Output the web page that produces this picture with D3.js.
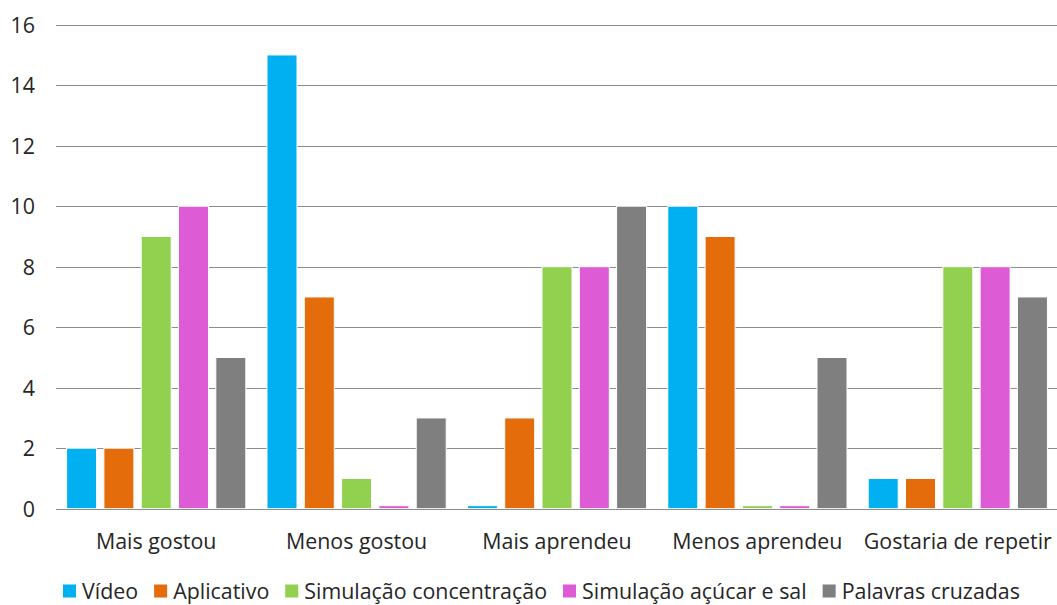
<!DOCTYPE html>
<html>
<head>
<meta charset="utf-8">
<script src="https://cdn.jsdelivr.net/npm/d3@7"></script>
<style>
  html, body { margin: 0; padding: 0; background: #fff; }
  svg text { font-family: "Open Sans", Lato, sans-serif; fill: #262626; }
</style>
</head>
<body>
<svg id="chart" width="1057" height="605"></svg>
<script>
// Categories and series
const categories = ["Mais gostou", "Menos gostou", "Mais aprendeu", "Menos aprendeu", "Gostaria de repetir"];
const seriesNames = ["Vídeo", "Aplicativo", "Simulação concentração", "Simulação açúcar e sal", "Palavras cruzadas"];
const seriesColors = ["#00B0F0", "#E46C0A", "#92D050", "#DD5CD5", "#7F7F7F"];

// Values per series, one entry per category
const video        = [2, 15, 0.1, 10, 1];
const aplicativo   = [2, 7, 3, 9, 1];
const simConc      = [9, 1, 8, 0.1, 8];
const simAcucar    = [10, 0.1, 8, 0.1, 8];
const palavras     = [5, 3, 10, 5, 7];
const seriesValues = [video, aplicativo, simConc, simAcucar, palavras];

const yTicks = [0, 2, 4, 6, 8, 10, 12, 14, 16];

const FONT = "'Open Sans', Lato, sans-serif";
const FS = "21.4px";
const svg = d3.select("#chart");
const plot = { left: 56, right: 1058, top: 24.7, bottom: 508.7 };

const x0 = d3.scaleBand().domain(categories).range([plot.left, plot.right]).padding(0);
const x1 = d3.scaleBand().domain(seriesNames).range([0, x0.bandwidth()])
  .paddingInner(0.196).paddingOuter(0.284);
const y = d3.scaleLinear().domain([0, 16]).range([plot.bottom, plot.top]);

// Horizontal gridlines
svg.append("g")
  .selectAll("line")
  .data(yTicks.filter(d => d > 0))
  .join("line")
  .attr("x1", plot.left).attr("x2", plot.right)
  .attr("y1", d => Math.round(y(d)) + 0.5).attr("y2", d => Math.round(y(d)) + 0.5)
  .attr("stroke", "#8C8C8C").attr("stroke-width", 1);

// Y axis labels
const yAxis = d3.axisLeft(y).tickValues(yTicks).tickSize(0).tickPadding(0);
const gy = svg.append("g").attr("transform", `translate(35,0)`).call(yAxis);
gy.select(".domain").remove();
gy.selectAll("text").style("font-size", FS).attr("fill", "#262626")
  .style("font-family", FONT).attr("dy", "0.35em");

// Bars
const groups = svg.append("g")
  .selectAll("g")
  .data(categories)
  .join("g")
  .attr("transform", d => `translate(${x0(d)},0)`);

groups.selectAll("rect")
  .data((c, ci) => seriesNames.map((s, si) => ({ s, si, v: seriesValues[si][ci] })))
  .join("rect")
  .attr("x", d => x1(d.s))
  .attr("width", x1.bandwidth())
  .attr("y", d => y(d.v))
  .attr("height", d => y(0) - y(d.v))
  .attr("fill", d => seriesColors[d.si])
  .attr("stroke", "#fff").attr("stroke-width", 1);

// Baseline
svg.append("line")
  .attr("x1", plot.left).attr("x2", plot.right)
  .attr("y1", Math.round(y(0)) + 0.5).attr("y2", Math.round(y(0)) + 0.5)
  .attr("stroke", "#8C8C8C").attr("stroke-width", 1);

// Category labels
const xAxis = d3.axisBottom(x0).tickSize(0).tickPadding(0);
const gx = svg.append("g").attr("transform", `translate(0,541)`).call(xAxis);
gx.select(".domain").remove();
gx.selectAll("text").style("font-size", FS).attr("fill", "#262626")
  .style("font-family", FONT).attr("dy", "0.35em");

// Legend
const legend = svg.append("g").attr("transform", "translate(0,591)");
let lx = 63;
seriesNames.forEach((name, i) => {
  legend.append("rect").attr("x", lx).attr("y", -6.5).attr("width", 13).attr("height", 13)
    .attr("fill", seriesColors[i]);
  const t = legend.append("text").attr("x", lx + 19).attr("y", 0).attr("dy", "0.35em")
    .style("font-size", FS).style("font-family", FONT).text(name);
  lx += 19 + t.node().getComputedTextLength() + 16;
});
</script>
</body>
</html>
